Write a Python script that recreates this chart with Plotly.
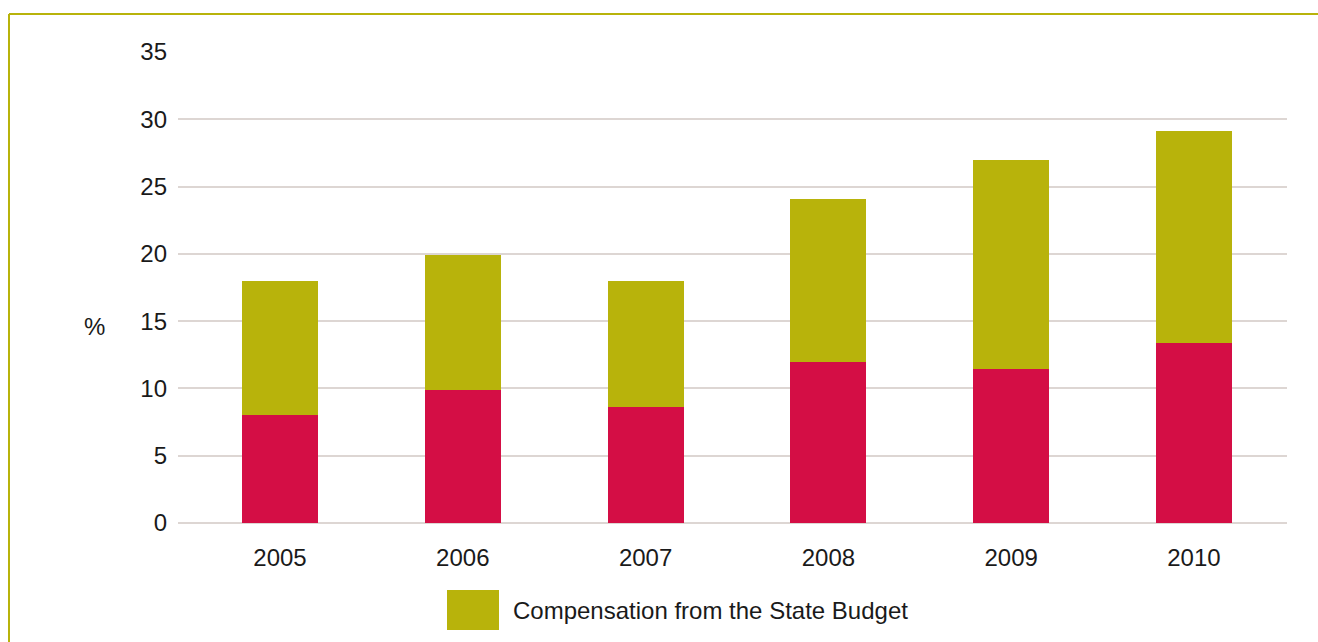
import plotly.graph_objects as go

years = ["2005", "2006", "2007", "2008", "2009", "2010"]
own_share = [8.0, 9.9, 8.6, 12.0, 11.45, 13.35]
state_budget = [10.0, 10.0, 9.4, 12.1, 15.55, 15.8]
y_ticks = [0, 5, 10, 15, 20, 25, 30, 35]

RED = "#d40e45"
OLIVE = "#b8b30b"
GRID = "#ddd6d3"
TEXT = "#1a1a1a"
FONT = "Liberation Sans, Arial, Helvetica, sans-serif"
FS = 24

W, H = 1318, 642
ML, MR, MT, MB = 178, 31, 52, 119
PW, PH = W - ML - MR, H - MT - MB


def px_x(p):
    return (p - ML) / PW


def px_y(p):
    return (H - MB - p) / PH


fig = go.Figure()
fig.add_trace(go.Bar(x=years, y=own_share, name="Own share", marker=dict(color=RED, line=dict(width=0)),
                     showlegend=False, width=0.416))
fig.add_trace(go.Bar(x=years, y=state_budget, name="Compensation from the State Budget",
                     marker=dict(color=OLIVE, line=dict(width=0)), showlegend=False, width=0.416))

shapes = [
    # outer border (top and left visible)
    dict(type="line", xref="paper", yref="paper", x0=px_x(9), x1=px_x(1330), y0=px_y(14), y1=px_y(14),
         line=dict(color=OLIVE, width=2)),
    dict(type="line", xref="paper", yref="paper", x0=px_x(9), x1=px_x(9), y0=px_y(14), y1=px_y(660),
         line=dict(color=OLIVE, width=2)),
    # legend swatch
    dict(type="rect", xref="paper", yref="paper", x0=px_x(447), x1=px_x(499), y0=px_y(590), y1=px_y(630),
         fillcolor=OLIVE, line=dict(width=0)),
]

annotations = [
    dict(text="Compensation from the State Budget", xref="paper", yref="paper", x=px_x(511), y=px_y(610),
         xanchor="left", yanchor="middle", showarrow=False, font=dict(size=FS, color=TEXT, family=FONT)),
    dict(text="%", xref="paper", yref="paper", x=px_x(94), y=px_y(326),
         xanchor="center", yanchor="middle", showarrow=False, font=dict(size=FS, color=TEXT, family=FONT)),
]

fig.update_layout(
    width=W, height=H,
    margin=dict(l=ML, r=MR, t=MT, b=MB, pad=0),
    barmode="stack",
    plot_bgcolor="white", paper_bgcolor="white",
    font=dict(family=FONT, size=FS, color=TEXT),
    shapes=shapes,
    annotations=annotations,
    showlegend=False,
)
fig.update_xaxes(range=[-0.558, 5.509], showgrid=False, showline=False, ticks="", ticklabelstandoff=18,
                 tickfont=dict(size=FS, color=TEXT, family=FONT))
fig.update_yaxes(range=[0, 35], tickvals=y_ticks, showgrid=True, gridcolor=GRID, gridwidth=1.5,
                 zeroline=True, zerolinecolor=GRID, zerolinewidth=1.5, showline=False, ticks="",
                 ticklabelstandoff=10, tickfont=dict(size=FS, color=TEXT, family=FONT))

fig.write_html("out.html")
